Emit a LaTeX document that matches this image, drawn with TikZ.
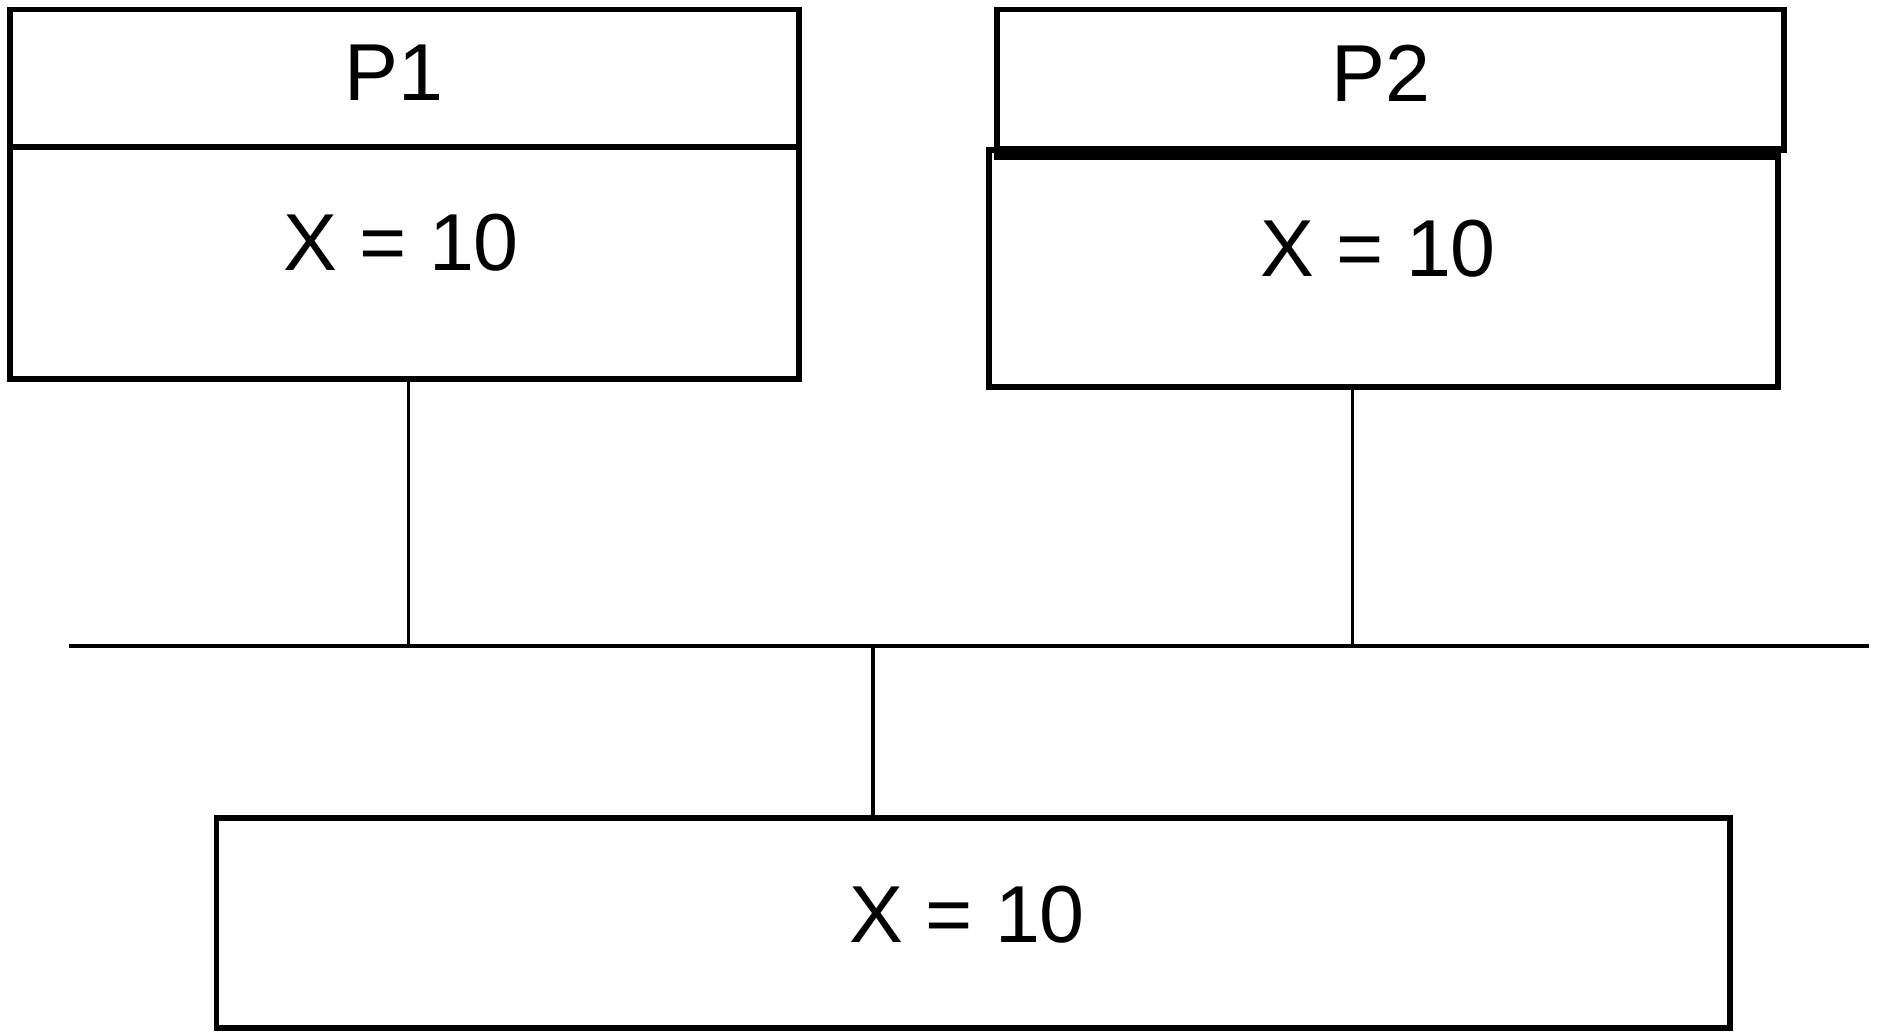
\documentclass[tikz,border=0pt]{standalone}
\usepackage{fontspec}
\setmainfont{Liberation Sans}
\usepackage{tikz}

\tikzset{
  box/.style={draw, line width=3pt, inner sep=0pt, minimum width=15.78cm},
  wire/.style={line width=1.8pt},
  txt/.style={font=\fontsize{46}{50}\selectfont, inner sep=0pt}
}

\begin{document}
\begin{tikzpicture}[x=0.02cm, y=-0.02cm]

  \useasboundingbox (0,0) rectangle (1879,1032);

  % Process P1
  \node[box, minimum height=2.75cm] (h1) at (404.5,78) {};
  \node[box, minimum height=4.64cm] (b1) at (404.5,263) {};
  \node[txt] (p1) at (394,73) {P1};
  \node[txt] (x1) at (401,243) {X = 10};

  % Process P2
  \node[box, minimum width=15.74cm, minimum height=2.81cm] (h2) at (1390.5,80) {};
  \draw[line width=8pt] (h2.south west) -- ([xshift=-0.12cm]h2.south east);
  \node[box, minimum height=4.74cm] (b2) at (1383.5,268.5) {};
  \node[txt] (p2) at (1381,73) {P2};
  \node[txt] (x2) at (1378,249) {X = 10};

  % Shared memory
  \node[box, minimum width=30.28cm, minimum height=4.2cm] (mem) at (973,923) {};
  \node[txt] (x3) at (967,915) {X = 10};

  % Bus
  \coordinate (busL) at (69,646);
  \coordinate (busR) at (1869,646);
  \draw[wire, line width=2.8pt] (busL) -- (busR);

  \draw[wire] ([xshift=0.08cm]b1.south) -- ([xshift=0.08cm]b1.south |- busL);
  \draw[wire] ([xshift=-0.62cm]b2.south) -- ([xshift=-0.62cm]b2.south |- busL);
  \draw[wire] ([xshift=-2cm]mem.north) -- ([xshift=-2cm]mem.north |- busL);

\end{tikzpicture}
\end{document}
